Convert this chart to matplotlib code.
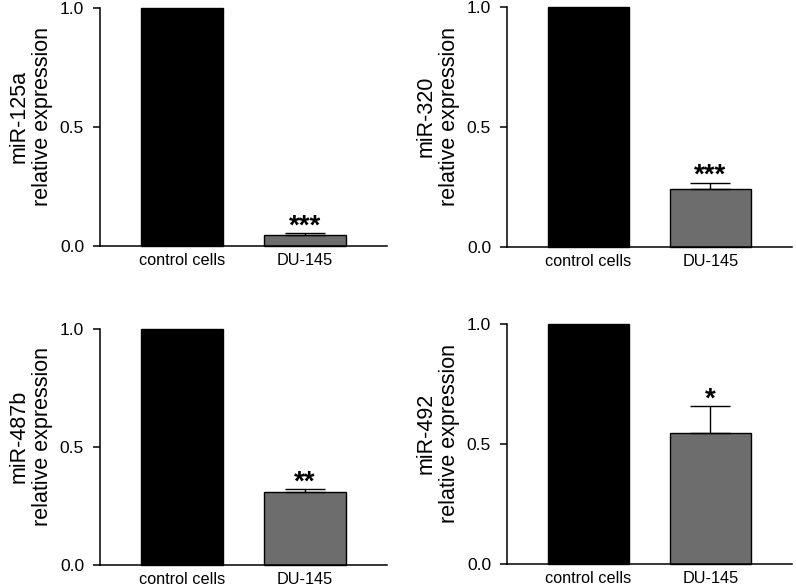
import matplotlib
matplotlib.use("Agg")
import matplotlib.pyplot as plt

plt.rcParams['font.family'] = ['Liberation Sans', 'DejaVu Sans']

categories = ["control cells", "DU-145"]
mirnas = ["miR-125a", "miR-320", "miR-487b", "miR-492"]
control_values = [1.0, 1.0, 1.0, 1.0]
du145_values = [0.045, 0.242, 0.311, 0.547]
du145_errors = [0.008, 0.025, 0.010, 0.111]
significance = ["***", "***", "**", "*"]
yticks = [0.0, 0.5, 1.0]
ytick_labels = ["0.0", "0.5", "1.0"]

W, H = 796, 588
fig = plt.figure(figsize=(W / 100, H / 100), dpi=100)

# axes rectangles in pixels: left, right, top(y=1), bottom(y=0)
rects_px = [
    (100, 387, 8.0, 246.0),
    (507, 792, 7.3, 246.7),
    (100, 387, 328.7, 565.3),
    (507, 792, 324.0, 563.7),
]

for i, (l, r, t, b) in enumerate(rects_px):
    ax = fig.add_axes([l / W, 1 - b / H, (r - l) / W, (b - t) / H])
    x = [0, 1]
    ax.bar(x[0], control_values[i], width=0.67, color='black', edgecolor='black',
           linewidth=1.0, clip_on=False, zorder=2)
    ax.bar(x[1], du145_values[i], width=0.67, color='#6d6d6d', edgecolor='black',
           linewidth=1.0, clip_on=False, zorder=2)
    ax.errorbar(x[1], du145_values[i], yerr=[[0], [du145_errors[i]]], fmt='none',
                ecolor='black', elinewidth=1.0, capsize=14.5, capthick=1.0, zorder=3)
    ax.annotate(significance[i], xy=(x[1], du145_values[i] + du145_errors[i]),
                xytext=(0, -4.5), textcoords='offset points', ha='center', va='bottom',
                fontsize=20, fontweight='bold')
    ax.set_xlim(-0.67, 1.67)
    ax.set_ylim(0, 1.0)
    ax.set_xticks(x)
    ax.set_xticklabels(categories, fontsize=11.7)
    ax.set_yticks(yticks)
    ax.set_yticklabels(ytick_labels, fontsize=12.5)
    ax.tick_params(axis='x', length=0, pad=5)
    ax.tick_params(axis='y', length=5, width=1.1, direction='out', pad=6.5)
    for s in ['top', 'right']:
        ax.spines[s].set_visible(False)
    for s in ['left', 'bottom']:
        ax.spines[s].set_linewidth(1.1)
    ax.set_ylabel(mirnas[i] + "\nrelative expression", fontsize=15.5, linespacing=1.15)
    ax.yaxis.set_label_coords(-0.164, 0.545)

fig.savefig("out.png", dpi=100)
